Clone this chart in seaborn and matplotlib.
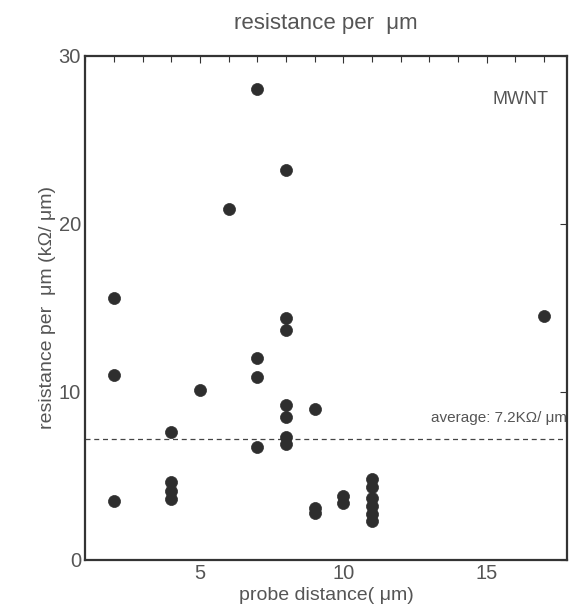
import numpy as np
import pandas as pd
import seaborn as sns
import matplotlib.pyplot as plt
from matplotlib.ticker import MultipleLocator

# probe distance (um) and resistance per um (kOhm/um)
distance = [2, 2, 2,
            4, 4, 4, 4,
            5, 6,
            7, 7, 7, 7,
            8, 8, 8, 8, 8, 8, 8,
            9, 9, 9,
            10, 10,
            11, 11, 11, 11, 11, 11,
            17]
resistance = [15.6, 11.0, 3.5,
              7.6, 4.6, 4.1, 3.6,
              10.1, 20.9,
              28.0, 12.0, 10.9, 6.7,
              23.2, 14.4, 13.7, 9.2, 8.5, 7.3, 6.9,
              9.0, 3.1, 2.8,
              3.8, 3.4,
              4.8, 4.3, 3.7, 3.2, 2.7, 2.3,
              14.5]
average = 7.2

df = pd.DataFrame({'distance': distance, 'resistance': resistance})

sns.set_style('white')
plt.rcParams['font.family'] = ['Liberation Sans', 'DejaVu Sans']

fig = plt.figure(figsize=(5.72, 6.13), dpi=100)
ax = fig.add_axes([0.149, 0.087, 0.842, 0.822])

sns.scatterplot(data=df, x='distance', y='resistance', ax=ax,
                color='#2e2e2e', s=75, edgecolor='#2e2e2e', linewidth=0.5, zorder=3)

ax.axhline(average, color='#444444', lw=0.9, ls=(0, (4, 3)), zorder=2)
ax.text(17.8, 8.0, 'average: 7.2K\u03a9/ \u03bcm', ha='right', va='bottom',
        fontsize=11, color='#555555')
ax.text(17.15, 27.4, 'MWNT', ha='right', va='center', fontsize=13, color='#555555')

ax.set_xlim(1, 17.8)
ax.set_ylim(0, 30)
ax.xaxis.set_major_locator(MultipleLocator(5))
ax.xaxis.set_minor_locator(MultipleLocator(1))
ax.yaxis.set_major_locator(MultipleLocator(10))
ax.tick_params(axis='both', which='both', direction='in', top=True, right=True,
               labelsize=14.5, colors='#333333', labelcolor='#555555')
ax.tick_params(axis='both', which='major', length=5, width=0.8, pad=3)
ax.tick_params(axis='both', which='minor', length=4, width=0.8)

for sp in ax.spines.values():
    sp.set_linewidth(1.6)
    sp.set_color('#333333')

ax.set_xlabel('probe distance( \u03bcm)', fontsize=14, color='#555555', labelpad=3)
ax.set_ylabel('resistance per  \u03bcm (k\u03a9/ \u03bcm)', fontsize=14, color='#555555', labelpad=2)
ax.set_title('resistance per  \u03bcm', fontsize=16, color='#555555', pad=19)

fig.savefig('out.png', dpi=100, facecolor='white')
